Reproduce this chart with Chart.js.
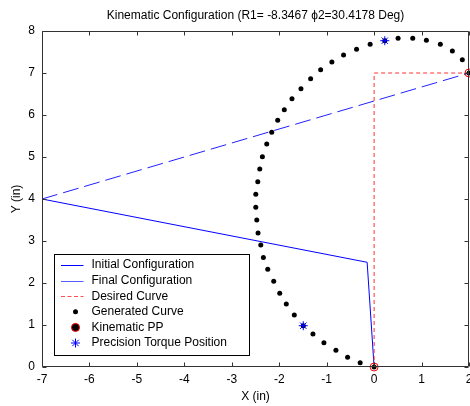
<!DOCTYPE html>
<html><head><meta charset="utf-8">
<script src="https://cdn.jsdelivr.net/npm/chart.js@4/dist/chart.umd.min.js"></script>
<style>html,body{margin:0;padding:0;background:#fff;}canvas{display:block}</style>
</head><body>
<canvas id="c" width="470" height="406"></canvas>
<script>
const titleText = 'Kinematic Configuration (R1= -8.3467 \u03D52=30.4178 Deg)';
const xLabel = 'X (in)';
const yLabel = 'Y (in)';
const xTicks = [-7, -6, -5, -4, -3, -2, -1, 0, 1, 2];
const yTicks = [0, 1, 2, 3, 4, 5, 6, 7, 8];

const initX = [-7, -0.147, 0];
const initY = [4, 2.493, 0];
const finalX = [-7, 2];
const finalY = [4, 7];
const desiredX = [0, 0, 2];
const desiredY = [0, 7, 7];
const genX = [0, -0.294, -0.559, -0.805, -1.058, -1.289, -1.493, -1.682, -1.851, -1.989, -2.116, -2.242, -2.334,
  -2.389, -2.446, -2.473, -2.494, -2.494, -2.452, -2.41, -2.355, -2.263, -2.158, -2.032, -1.893, -1.731, -1.542,
  -1.338, -1.127, -0.89, -0.644, -0.37, -0.084, 0.225, 0.505, 0.814, 1.102, 1.396, 1.649, 1.859, 2];
const genY = [0, 0.102, 0.231, 0.398, 0.579, 0.786, 0.983, 1.238, 1.5, 1.755, 2.04, 2.326, 2.605,
  2.905, 3.19, 3.5, 3.802, 4.112, 4.412, 4.714, 5.007, 5.31, 5.588, 5.874, 6.126, 6.388, 6.626,
  6.864, 7.079, 7.262, 7.429, 7.564, 7.683, 7.769, 7.826, 7.826, 7.779, 7.683, 7.524, 7.317, 7];
const ppX = [0, 2];
const ppY = [0, 7];
const starX = [-1.493, 0.225];
const starY = [0.983, 7.769];
const legendLabels = ['Initial Configuration', 'Final Configuration', 'Desired Curve',
  'Generated Curve', 'Kinematic PP', 'Precision Torque Position'];

const pts = (xs, ys) => xs.map((v, i) => ({x: v, y: ys[i]}));
const FONT = '"Liberation Sans", Arial, Helvetica, sans-serif';

const framePlugin = {
  id: 'frame',
  afterDraw(chart) {
    const {ctx, chartArea: a, scales: {x, y}} = chart;
    ctx.save();
    // title
    ctx.fillStyle = '#000';
    ctx.font = '12px ' + FONT;
    ctx.textAlign = 'center';
    ctx.textBaseline = 'middle';
    ctx.fillText(titleText, (a.left + a.right) / 2, 16);
    // frame and inward ticks
    ctx.strokeStyle = '#333';
    ctx.lineWidth = 1;
    const L = Math.round(a.left) + 0.5, R = Math.round(a.right) - 0.5;
    const T = Math.round(a.top) + 0.5, B = Math.round(a.bottom) - 0.5;
    ctx.beginPath();
    ctx.rect(L, T, R - L, B - T);
    xTicks.forEach(v => {
      const px = Math.round(x.getPixelForValue(v)) + 0.5;
      ctx.moveTo(px, B); ctx.lineTo(px, B - 4);
      ctx.moveTo(px, T); ctx.lineTo(px, T + 4);
    });
    yTicks.forEach(v => {
      const py = Math.round(y.getPixelForValue(v)) + 0.5;
      ctx.moveTo(L, py); ctx.lineTo(L + 4, py);
      ctx.moveTo(R, py); ctx.lineTo(R - 4, py);
    });
    ctx.stroke();
    // legend
    const bx = Math.round(a.left) + 12.5, by = Math.round(a.bottom) - 112.5, bw = 195, bh = 101;
    ctx.fillStyle = '#fff';
    ctx.fillRect(bx, by, bw, bh);
    ctx.strokeStyle = '#000';
    ctx.strokeRect(bx, by, bw, bh);
    const rows = legendLabels.map((t, i) => by + 10.5 + i * 15.6);
    const lx0 = bx + 6.5, lx1 = bx + 29, mx = bx + 21;
    ctx.lineWidth = 1;
    ctx.strokeStyle = '#0000ff'; ctx.setLineDash([]);
    ctx.beginPath(); ctx.moveTo(lx0, Math.round(rows[0]) + 0.5); ctx.lineTo(lx1, Math.round(rows[0]) + 0.5); ctx.stroke();
    ctx.strokeStyle = '#5a5aff';
    ctx.beginPath(); ctx.moveTo(lx0, Math.round(rows[1]) + 0.5); ctx.lineTo(lx1, Math.round(rows[1]) + 0.5); ctx.stroke();
    ctx.strokeStyle = '#ff5050'; ctx.setLineDash([4, 2.5]);
    ctx.beginPath(); ctx.moveTo(lx0, Math.round(rows[2]) + 0.5); ctx.lineTo(lx1, Math.round(rows[2]) + 0.5); ctx.stroke();
    ctx.setLineDash([]);
    ctx.fillStyle = '#000'; ctx.strokeStyle = '#000';
    Chart.helpers.drawPoint(ctx, {pointStyle: 'circle', radius: 2.5, rotation: 0, borderWidth: 0}, mx, rows[3]);
    ctx.strokeStyle = '#ff0000';
    Chart.helpers.drawPoint(ctx, {pointStyle: 'circle', radius: 4, rotation: 0, borderWidth: 1}, mx, rows[4]);
    ctx.strokeStyle = '#0000ff';
    Chart.helpers.drawPoint(ctx, {pointStyle: 'star', radius: 4.5, rotation: 0, borderWidth: 1}, mx, rows[5]);
    ctx.fillStyle = '#000';
    ctx.font = '12px ' + FONT;
    ctx.textAlign = 'left';
    ctx.textBaseline = 'middle';
    legendLabels.forEach((t, i) => ctx.fillText(t, bx + 37, rows[i]));
    ctx.restore();
  }
};

new Chart(document.getElementById('c'), {
  type: 'scatter',
  data: {
    datasets: [
      {label: legendLabels[0], data: pts(initX, initY), showLine: true, borderColor: '#0000ff', borderWidth: 1,
        pointRadius: 0, order: 6},
      {label: legendLabels[1], data: pts(finalX, finalY), showLine: true, borderColor: '#2020ff', borderWidth: 1,
        borderDash: [16, 6], pointRadius: 0, order: 5},
      {label: legendLabels[2], data: pts(desiredX, desiredY), showLine: true, borderColor: '#ff3030', borderWidth: 1,
        borderDash: [4, 3], pointRadius: 0, order: 4},
      {label: legendLabels[3], data: pts(genX, genY), showLine: false, pointRadius: 2.5, pointBorderWidth: 0,
        pointBackgroundColor: '#000', pointBorderColor: '#000', clip: false, order: 3},
      {label: legendLabels[4], data: pts(ppX, ppY), showLine: false, pointRadius: 4, pointBorderWidth: 1,
        pointBackgroundColor: 'rgba(0,0,0,0)', pointBorderColor: '#ff0000', clip: false, order: 2},
      {label: legendLabels[5], data: pts(starX, starY), showLine: false, pointStyle: 'star', pointRadius: 4.5,
        pointBorderWidth: 1, pointBorderColor: '#0000ff', clip: false, order: 1}
    ]
  },
  options: {
    responsive: false,
    animation: false,
    events: [],
    layout: {autoPadding: false, padding: {top: 31, right: 1, bottom: 0, left: 0}},
    plugins: {legend: {display: false}, tooltip: {enabled: false}, title: {display: false}},
    scales: {
      x: {
        type: 'linear', min: xTicks[0], max: xTicks[xTicks.length - 1],
        afterBuildTicks: s => { s.ticks = xTicks.map(v => ({value: v})); },
        afterFit: s => { s.height = 39; s.paddingLeft = 0; s.paddingRight = 0; },
        grid: {display: false, drawTicks: false},
        border: {display: false},
        ticks: {padding: 5, color: '#000', font: {family: FONT, size: 12}, maxRotation: 0, autoSkip: false},
        title: {display: true, text: xLabel, color: '#000', font: {family: FONT, size: 12}, padding: {top: 0, bottom: 2}}
      },
      y: {
        type: 'linear', min: yTicks[0], max: yTicks[yTicks.length - 1],
        afterBuildTicks: s => { s.ticks = yTicks.map(v => ({value: v})); },
        afterFit: s => { s.width = 42; },
        grid: {display: false, drawTicks: false},
        border: {display: false},
        ticks: {padding: 7, color: '#000', font: {family: FONT, size: 12}, autoSkip: false},
        title: {display: true, text: yLabel, color: '#000', font: {family: FONT, size: 12}, padding: {top: 9, bottom: 0}}
      }
    }
  },
  plugins: [framePlugin]
});
</script>
</body></html>
